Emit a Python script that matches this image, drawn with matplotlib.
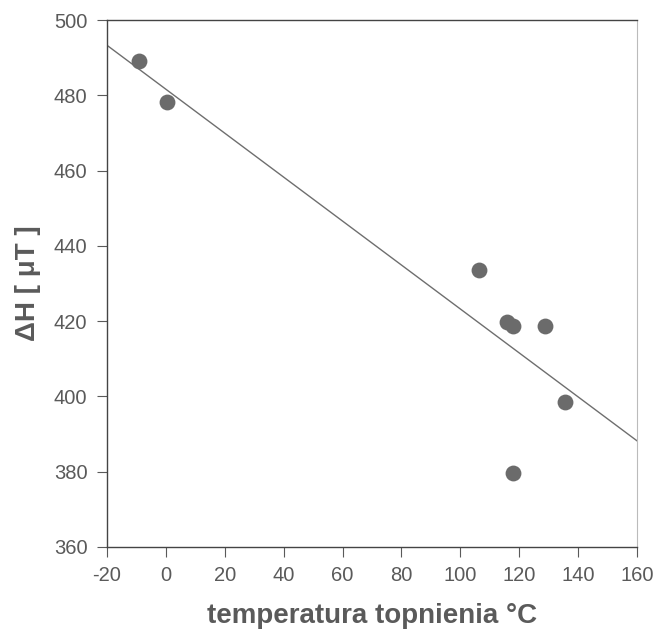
import numpy as np
import matplotlib
matplotlib.use('Agg')
import matplotlib.pyplot as plt

plt.rcParams['font.family'] = ['Liberation Sans', 'DejaVu Sans']
plt.rcParams['axes.unicode_minus'] = False

# melting temperature [C] and delta H [uT]
temp = [-9.2, 0.5, 106.3, 116.0, 118.0, 128.8, 135.6, 118.0]
dH = [489.1, 478.2, 433.6, 419.8, 418.7, 418.7, 398.5, 379.7]

grey = '#5a5a5a'

fig = plt.figure(figsize=(6.56, 6.33), dpi=100)
ax = fig.add_axes([0.163, 0.136, 0.808, 0.832])

ax.scatter(temp, dH, s=130, color='#6b6b6b', zorder=3, linewidths=0)

# regression line
a, b = np.polyfit(temp, dH, 1)
xl = np.array([-20, 160])
ax.plot(xl, a * xl + b, color='#6e6e6e', lw=1.0)

ax.set_xlim(-20, 160)
ax.set_ylim(360, 500)
ax.set_xticks(np.arange(-20, 161, 20))
ax.set_yticks(np.arange(360, 501, 20))
ax.tick_params(colors=grey, labelcolor=grey, labelsize=14.5, length=7, width=0.8, pad=7)
for s in ['left', 'bottom', 'top']:
    ax.spines[s].set_color('#444444')
    ax.spines[s].set_linewidth(1.0)
ax.spines['right'].set_color('#bbbbbb')

ax.set_xlabel('temperatura topnienia °C', fontsize=20, fontweight='bold', color=grey, labelpad=13)
ax.set_ylabel('ΔH [ μT ]', fontsize=20, fontweight='bold', color=grey, labelpad=9)

fig.savefig('out.png')
